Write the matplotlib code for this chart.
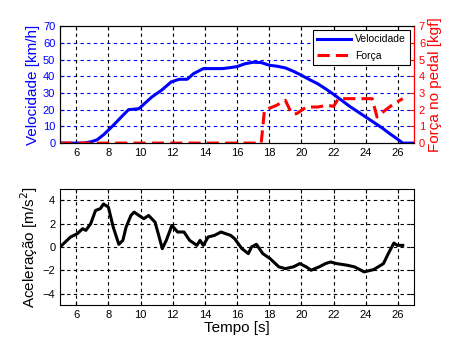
import matplotlib.pyplot as plt
from matplotlib.lines import Line2D

plt.rcParams['font.family'] = ['Liberation Sans', 'DejaVu Sans']

# velocity [km/h] vs time [s]
t_vel = [5, 6.5, 7.0, 7.3, 7.7, 8.3, 8.9, 9.25, 9.9, 10.7, 11.3, 11.9, 12.4, 12.9,
         13.3, 13.9, 15.1, 15.6, 16.0, 16.5, 17.0, 17.5, 18.0, 18.5, 19.0, 19.5,
         20.0, 20.5, 21.0, 21.5, 22.0, 22.5, 23.0, 23.5, 24.0, 24.5, 25.0, 25.5,
         26.0, 26.3, 27.0]
vel = [0, 0, 1, 2, 5, 10.6, 16.6, 20, 20.6, 27.6, 31.6, 36.6, 38.2, 38.2,
       41.6, 44.6, 44.6, 45.2, 45.8, 47.5, 48.4, 48.2, 46.6, 46.0, 45.0, 43.0,
       40.6, 38.0, 35.6, 32.5, 29.2, 25.6, 22.0, 18.8, 15.6, 12.4, 9.2, 5.6,
       2.2, 0, 0]

# pedal force [kgf]
t_force = [5, 17.5, 17.7, 18.45, 19.0, 19.4, 19.7, 20.3, 21.0, 21.6, 22.0, 22.3,
           23.0, 23.9, 24.4, 24.7, 25.2, 25.75, 26.3]
force = [0, 0, 1.96, 2.26, 2.56, 1.76, 1.76, 2.16, 2.16, 2.26, 2.2, 2.66,
         2.66, 2.66, 2.66, 1.56, 1.96, 2.36, 2.66]

# acceleration [m/s^2]
t_acc = [5.0, 5.1, 5.65, 6.06, 6.4, 6.6, 6.9, 7.2, 7.5, 7.7, 8.0, 8.3, 8.65, 8.9,
         9.1, 9.4, 9.6, 9.9, 10.2, 10.5, 10.9, 11.1, 11.35, 11.6, 11.95, 12.3,
         12.7, 13.05, 13.5, 13.7, 13.9, 14.2, 14.6, 15.0, 15.3, 15.6, 15.85,
         16.3, 16.7, 16.9, 17.2, 17.6, 18.05, 18.6, 19.0, 19.5, 19.9, 20.3,
         20.6, 21.1, 21.5, 21.8, 22.2, 22.85, 23.3, 23.9, 24.5, 25.1, 25.4,
         25.75, 25.96, 26.3]
acc = [0.05, 0.14, 0.86, 1.14, 1.57, 1.43, 2.0, 3.14, 3.3, 3.7, 3.43, 1.71, 0.23,
       0.57, 1.71, 2.71, 3.0, 2.71, 2.43, 2.71, 2.14, 1.14, -0.14, 0.57, 1.86,
       1.29, 1.29, 0.57, 0.14, 0.57, 0.14, 0.86, 1.0, 1.29, 1.14, 1.0, 0.71,
       -0.14, -0.57, 0.0, 0.23, -0.57, -1.0, -1.71, -1.86, -1.71, -1.43, -1.71,
       -2.0, -1.71, -1.43, -1.29, -1.43, -1.57, -1.71, -2.14, -1.94, -1.43,
       -0.57, 0.34, 0.14, 0.14]

xticks = list(range(6, 27, 2))
blue = (0, 0, 1)
red = (1, 0, 0)
grid_dash = (0, (3, 3))

fig = plt.figure(figsize=(4.59, 3.44), dpi=100)
ax1 = fig.add_axes([0.131, 0.584, 0.771, 0.340])
ax2 = ax1.twinx()
ax3 = fig.add_axes([0.131, 0.113, 0.771, 0.338])

# top: velocity and force
ax1.plot(t_vel, vel, color=blue, lw=2.2)
ax2.plot(t_force, force, color=red, lw=2.2, dashes=(4, 2))
ax1.set_xlim(5, 27)
ax1.set_ylim(0, 70)
ax2.set_ylim(0, 7)
ax1.set_xticks(xticks)
ax1.set_yticks(range(0, 71, 10))
ax2.set_yticks(range(0, 8))
for y in range(10, 70, 10):
    ax1.axhline(y, color=blue, lw=0.8, linestyle=grid_dash, zorder=0)
for x in xticks:
    ax1.axvline(x, color='black', lw=0.8, linestyle=grid_dash, zorder=0)
ax1.set_ylabel('Velocidade [km/h]', color=blue, fontsize=11, labelpad=2)
ax2.set_ylabel('Força no pedal [kgf]', color=red, fontsize=11, labelpad=2)
ax1.tick_params(axis='y', colors=blue, direction='in', labelsize=8, length=3)
ax1.tick_params(axis='x', direction='in', labelsize=8, length=3, top=True)
ax2.tick_params(axis='y', colors=red, direction='in', labelsize=8, length=3)
ax2.spines['right'].set_color(red)

handles = [Line2D([], [], color=blue, lw=2.2),
           Line2D([], [], color=red, lw=2.2, dashes=(4, 2))]
leg = ax1.legend(handles, ['Velocidade', 'Força'], loc='upper right',
                 fontsize=7.5, fancybox=False, edgecolor='black',
                 framealpha=1, borderaxespad=0.4, handlelength=3.2,
                 handletextpad=0.4, labelspacing=0.6)
leg.get_frame().set_linewidth(0.8)

# bottom: acceleration
ax3.plot(t_acc, acc, color='black', lw=2.2)
ax3.set_xlim(5, 27)
ax3.set_ylim(-5, 5)
ax3.set_xticks(xticks)
ax3.set_yticks(range(-4, 5, 2))
ax3.grid(True, color='black', lw=0.8, linestyle=grid_dash)
ax3.tick_params(direction='in', labelsize=8, length=3, top=True, right=True)
ax3.set_ylabel('Aceleração [m/s$^2$]', fontsize=11, labelpad=2)
ax3.set_xlabel('Tempo [s]', fontsize=11, labelpad=1)

fig.savefig('out.png', dpi=100)
